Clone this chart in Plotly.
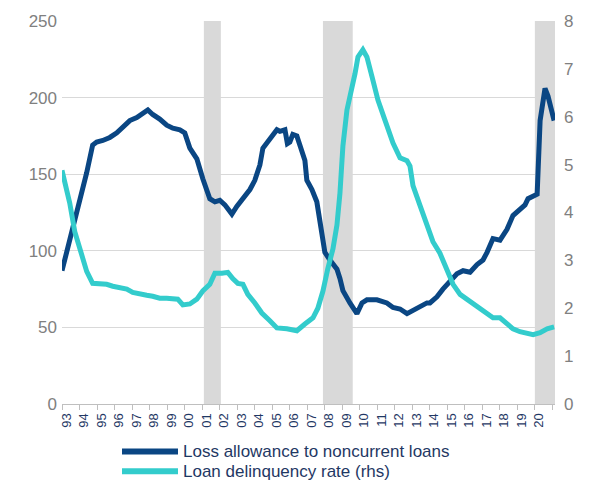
import plotly.graph_objects as go

# Loss allowance to noncurrent loans (%), decimal-year positions
loss_t = [1993.00, 1993.27, 1993.55, 1993.84, 1994.13, 1994.41, 1994.75, 1994.98, 1995.33, 1995.73,
          1996.13, 1996.47, 1996.87, 1997.27, 1997.61, 1997.90, 1998.18, 1998.58, 1998.98, 1999.33,
          1999.73, 2000.01, 2000.30, 2000.70, 2001.04, 2001.27, 2001.44, 2001.73, 2002.01, 2002.30,
          2002.70, 2002.98, 2003.33, 2003.73, 2004.01, 2004.30, 2004.47, 2004.76, 2005.04, 2005.27,
          2005.44, 2005.73, 2005.87, 2006.01, 2006.18, 2006.41, 2006.58, 2006.87, 2006.98, 2007.27,
          2007.55, 2007.84, 2008.01, 2008.30, 2008.70, 2008.87, 2009.04, 2009.44, 2009.84, 2010.13,
          2010.41, 2010.98, 2011.55, 2011.90, 2012.30, 2012.70, 2013.04, 2013.44, 2013.84, 2014.01,
          2014.41, 2014.75, 2015.15, 2015.55, 2015.90, 2016.30, 2016.70, 2017.04, 2017.27, 2017.61,
          2018.01, 2018.41, 2018.75, 2019.15, 2019.44, 2019.61, 2019.90, 2020.13, 2020.30, 2020.58,
          2020.75, 2021.10]
loss_v = [87, 99, 112, 127, 140, 151, 169, 171, 172, 174,
          177, 181, 185, 187, 190, 192, 189, 186, 182, 180,
          179, 177, 167, 160, 147, 138, 134, 132, 133, 130,
          124, 129, 134, 140, 146, 156, 167, 171, 176, 179,
          178, 179, 170, 171, 176, 175, 169, 159, 146, 140,
          132, 112, 99, 94, 88, 82, 74, 66, 59, 66,
          68, 68, 66, 63, 62, 59, 61, 64, 66, 66,
          70, 75, 80, 85, 87, 86, 91, 94, 99, 108,
          107, 114, 123, 127, 130, 134, 136, 137, 185, 206,
          201, 185]

# Loan delinquency rate (%), right-hand scale
delinq_t = [1993.00, 1993.44, 1993.73, 1994.01, 1994.41, 1994.75, 1995.15, 1995.55, 1995.90, 1996.30,
            1996.70, 1997.04, 1997.44, 1997.84, 1998.18, 1998.58, 1998.98, 1999.33, 1999.61, 1999.90,
            2000.30, 2000.70, 2001.04, 2001.44, 2001.73, 2002.13, 2002.47, 2002.75, 2003.04, 2003.33,
            2003.61, 2004.01, 2004.41, 2004.87, 2005.27, 2005.84, 2006.41, 2006.87, 2007.33, 2007.61,
            2007.90, 2008.18, 2008.47, 2008.70, 2008.87, 2009.04, 2009.27, 2009.73, 2009.90, 2010.18,
            2010.41, 2010.70, 2011.04, 2011.44, 2011.90, 2012.30, 2012.70, 2012.87, 2013.04, 2013.44,
            2013.84, 2014.18, 2014.58, 2014.98, 2015.33, 2015.73, 2016.13, 2016.47, 2016.87, 2017.27,
            2017.61, 2018.01, 2018.41, 2018.75, 2019.15, 2019.55, 2019.90, 2020.30, 2020.70, 2021.10]
delinq_v = [4.88, 4.20, 3.60, 3.25, 2.77, 2.52, 2.52, 2.50, 2.46, 2.44,
            2.40, 2.33, 2.29, 2.27, 2.25, 2.21, 2.21, 2.20, 2.19, 2.07,
            2.09, 2.19, 2.36, 2.50, 2.73, 2.73, 2.75, 2.62, 2.52, 2.50,
            2.29, 2.11, 1.90, 1.74, 1.59, 1.57, 1.53, 1.67, 1.80, 2.00,
            2.36, 2.83, 3.24, 3.74, 4.40, 5.39, 6.14, 6.90, 7.25, 7.40,
            7.25, 6.84, 6.35, 5.93, 5.45, 5.14, 5.08, 4.97, 4.56, 4.15,
            3.74, 3.39, 3.15, 2.81, 2.50, 2.29, 2.19, 2.11, 2.00, 1.88,
            1.80, 1.80, 1.67, 1.57, 1.51, 1.47, 1.45, 1.49, 1.57, 1.61]

# Recession periods (start, end)
recessions = [(2001.10, 2002.07), (2007.90, 2009.60), (2020.00, 2021.15)]

years = list(range(1993, 2021))
year_labels = [f"{y % 100:02d}" for y in years]

NAVY = "#0a4683"
TEAL = "#33cccc"
FONT = "Liberation Sans, Arial, sans-serif"

fig = go.Figure()
fig.add_trace(go.Scatter(x=loss_t, y=loss_v, mode="lines", name="Loss allowance to noncurrent loans",
                         line=dict(color=NAVY, width=5), yaxis="y"))
fig.add_trace(go.Scatter(x=delinq_t, y=delinq_v, mode="lines", name="Loan delinquency rate (rhs)",
                         line=dict(color=TEAL, width=5), yaxis="y2"))

for a, b in recessions:
    fig.add_shape(type="rect", xref="x", yref="paper", x0=a, x1=b, y0=0, y1=1,
                  fillcolor="#d9d9d9", line=dict(width=0), layer="below")

# Legend drawn below the plot
legend_items = [("Loss allowance to noncurrent loans", NAVY), ("Loan delinquency rate (rhs)", TEAL)]
for i, (label, col) in enumerate(legend_items):
    ypix = 452 + i * 20
    yp = (480 - 76 - ypix) / (480 - 17 - 76)
    x0 = (122 - 62) / 493
    x1 = (178 - 62) / 493
    fig.add_shape(type="line", xref="paper", yref="paper", x0=x0, x1=x1, y0=yp, y1=yp,
                  line=dict(color=col, width=6))
    fig.add_annotation(xref="paper", yref="paper", x=(181 - 62) / 493, y=yp, text=label,
                       showarrow=False, xanchor="left", yanchor="middle",
                       font=dict(family=FONT, size=17, color="#1f3864"))

fig.update_layout(
    width=591, height=480,
    margin=dict(l=62, r=36, t=17, b=76),
    plot_bgcolor="white", paper_bgcolor="white",
    showlegend=False,
    font=dict(family=FONT),
    xaxis=dict(range=[1993.0, 2021.15], tickmode="array",
               tickvals=[y + 0.25 for y in years], ticktext=year_labels,
               tickangle=-90, ticks="", showgrid=False, zeroline=False,
               showline=True, linecolor="#bfbfbf", linewidth=1,
               tickfont=dict(family=FONT, size=13, color="#1f3864"), ticklabelstandoff=3,
               minor=dict(tickmode="array", tickvals=list(range(1993, 2022)), ticks="outside",
                          ticklen=5, tickcolor="#bfbfbf", showgrid=False)),
    yaxis=dict(range=[0, 250], tickvals=[0, 50, 100, 150, 200, 250], showgrid=True,
               gridcolor="#d9d9d9", gridwidth=1, zeroline=False, ticks="",
               tickfont=dict(family=FONT, size=17, color="#808080"), ticklabelstandoff=4),
    yaxis2=dict(range=[0, 8], tickvals=list(range(0, 9)), overlaying="y", side="right",
                showgrid=False, zeroline=False, ticks="",
                tickfont=dict(family=FONT, size=17, color="#808080"), ticklabelstandoff=8),
)

fig.write_html("out.html")
